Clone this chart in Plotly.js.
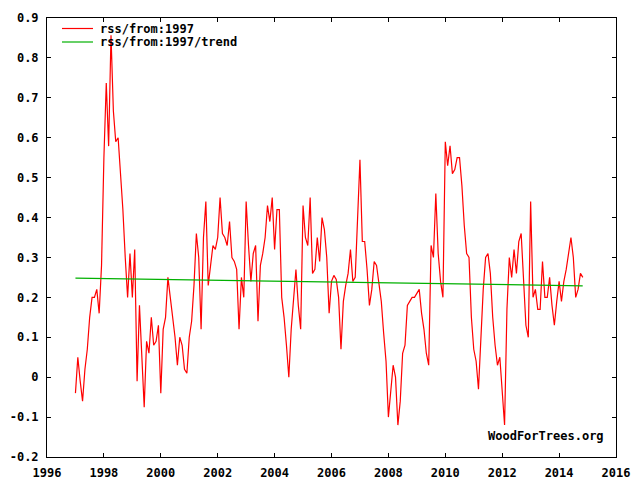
<!DOCTYPE html>
<html>
<head>
<meta charset="utf-8">
<script src="https://cdn.plot.ly/plotly-3.0.1.min.js"></script>
<style>
html,body{margin:0;padding:0;background:#fff;}
#chart{width:641px;height:491px;}
</style>
</head>
<body>
<div id="chart"></div>
<script>
// Monthly RSS anomalies, Jan 1997 .. Nov 2014
const startYear = 1997;
const rss1997 = [-0.04, 0.05, -0.01, -0.06, 0.02, 0.07, 0.15, 0.20, 0.20, 0.22, 0.16, 0.28];
const rss1998 = [0.55, 0.737, 0.579, 0.857, 0.667, 0.59, 0.60, 0.52, 0.42, 0.30, 0.20, 0.31];
const rss1999 = [0.20, 0.32, -0.01, 0.18, 0.04, -0.075, 0.09, 0.06, 0.15, 0.08, 0.09, 0.13];
const rss2000 = [-0.04, 0.12, 0.15, 0.25, 0.20, 0.15, 0.10, 0.03, 0.10, 0.08, 0.02, 0.01];
const rss2001 = [0.10, 0.14, 0.23, 0.36, 0.30, 0.12, 0.35, 0.44, 0.23, 0.28, 0.33, 0.32];
const rss2002 = [0.35, 0.45, 0.36, 0.35, 0.33, 0.39, 0.30, 0.29, 0.27, 0.12, 0.25, 0.20];
const rss2003 = [0.44, 0.33, 0.24, 0.31, 0.33, 0.14, 0.28, 0.31, 0.35, 0.43, 0.39, 0.45];
const rss2004 = [0.32, 0.42, 0.42, 0.20, 0.15, 0.08, 0.00, 0.12, 0.20, 0.27, 0.18, 0.12];
const rss2005 = [0.43, 0.35, 0.33, 0.45, 0.26, 0.27, 0.35, 0.29, 0.40, 0.37, 0.30, 0.16];
const rss2006 = [0.24, 0.255, 0.245, 0.20, 0.07, 0.19, 0.23, 0.26, 0.32, 0.24, 0.25, 0.38];
const rss2007 = [0.545, 0.34, 0.34, 0.27, 0.18, 0.22, 0.29, 0.28, 0.24, 0.19, 0.11, 0.04];
const rss2008 = [-0.10, -0.03, 0.03, 0.00, -0.12, -0.06, 0.06, 0.08, 0.18, 0.19, 0.20, 0.20];
const rss2009 = [0.21, 0.22, 0.16, 0.12, 0.06, 0.03, 0.33, 0.30, 0.46, 0.31, 0.24, 0.20];
const rss2010 = [0.59, 0.53, 0.58, 0.51, 0.52, 0.55, 0.55, 0.48, 0.38, 0.31, 0.30, 0.15];
const rss2011 = [0.07, 0.04, -0.03, 0.10, 0.22, 0.30, 0.31, 0.26, 0.15, 0.08, 0.03, 0.05];
const rss2012 = [-0.05, -0.12, 0.17, 0.30, 0.25, 0.32, 0.26, 0.34, 0.36, 0.25, 0.13, 0.10];
const rss2013 = [0.44, 0.20, 0.22, 0.17, 0.17, 0.29, 0.20, 0.20, 0.25, 0.18, 0.13, 0.19];
const rss2014 = [0.24, 0.19, 0.24, 0.27, 0.31, 0.35, 0.30, 0.20, 0.22, 0.26, 0.25];

// Trend line end points
const trendX = [1997.0, 2014.83];
const trendY = [0.248, 0.229];

// Tick labels
const xTickVals = [1996, 1998, 2000, 2002, 2004, 2006, 2008, 2010, 2012, 2014, 2016];
const xTickText = ['1996','1998','2000','2002','2004','2006','2008','2010','2012','2014','2016'];
const yTickVals = [-0.2, -0.1, 0, 0.1, 0.2, 0.3, 0.4, 0.5, 0.6, 0.7, 0.8, 0.9];
const yTickText = ['-0.2','-0.1','0','0.1','0.2','0.3','0.4','0.5','0.6','0.7','0.8','0.9'];

const seriesName = 'rss/from:1997';
const trendName = 'rss/from:1997/trend';

const rssY = [].concat(rss1997, rss1998, rss1999, rss2000, rss2001, rss2002, rss2003,
  rss2004, rss2005, rss2006, rss2007, rss2008, rss2009, rss2010, rss2011, rss2012, rss2013, rss2014);
const rssX = rssY.map((_, i) => startYear + i / 12);

const W = 641, H = 491;
const M = {l: 47, r: 25, t: 18, b: 34};
const pw = W - M.l - M.r, ph = H - M.t - M.b;
const px = x => (x - M.l) / pw;
const py = y => (H - M.b - y) / ph;

const RED = '#ff0000', GREEN = '#00b000';
const FONT = {family: 'DejaVu Sans Mono, monospace', size: 12, color: '#000', weight: 'bold'};

const traces = [
  {x: rssX, y: rssY, type: 'scatter', mode: 'lines', name: seriesName,
   line: {color: RED, width: 1.2}, hoverinfo: 'skip'},
  {x: trendX, y: trendY, type: 'scatter', mode: 'lines', name: trendName,
   line: {color: GREEN, width: 1.2}, hoverinfo: 'skip'}
];

const axisCommon = {
  showgrid: false, zeroline: false, showline: true, linecolor: '#000', linewidth: 1,
  mirror: 'ticks', ticks: 'inside', ticklen: 4, tickcolor: '#000', tickwidth: 1,
  tickfont: FONT, tickmode: 'array'
};

const layout = {
  width: W, height: H,
  margin: M,
  paper_bgcolor: '#fff', plot_bgcolor: '#fff',
  showlegend: false,
  font: FONT,
  xaxis: Object.assign({}, axisCommon, {range: [1996, 2016], tickvals: xTickVals, ticktext: xTickText,
    ticklabelstandoff: 5}),
  yaxis: Object.assign({}, axisCommon, {range: [-0.2, 0.9], tickvals: yTickVals, ticktext: yTickText,
    ticklabelstandoff: 5}),
  shapes: [
    {type: 'line', xref: 'paper', yref: 'paper', x0: px(62), x1: px(93), y0: py(28.5), y1: py(28.5),
     line: {color: RED, width: 1.2}},
    {type: 'line', xref: 'paper', yref: 'paper', x0: px(62), x1: px(93), y0: py(42), y1: py(42),
     line: {color: GREEN, width: 1.2}}
  ],
  annotations: [
    {xref: 'paper', yref: 'paper', x: px(98), y: py(28.5), text: seriesName, showarrow: false,
     xanchor: 'left', yanchor: 'middle', font: FONT},
    {xref: 'paper', yref: 'paper', x: px(98), y: py(42), text: trendName, showarrow: false,
     xanchor: 'left', yanchor: 'middle', font: FONT},
    {xref: 'paper', yref: 'paper', x: px(486), y: py(436), text: 'WoodForTrees.org', showarrow: false,
     xanchor: 'left', yanchor: 'middle', font: FONT}
  ]
};

Plotly.newPlot('chart', traces, layout, {staticPlot: true, displayModeBar: false});
</script>
</body>
</html>
